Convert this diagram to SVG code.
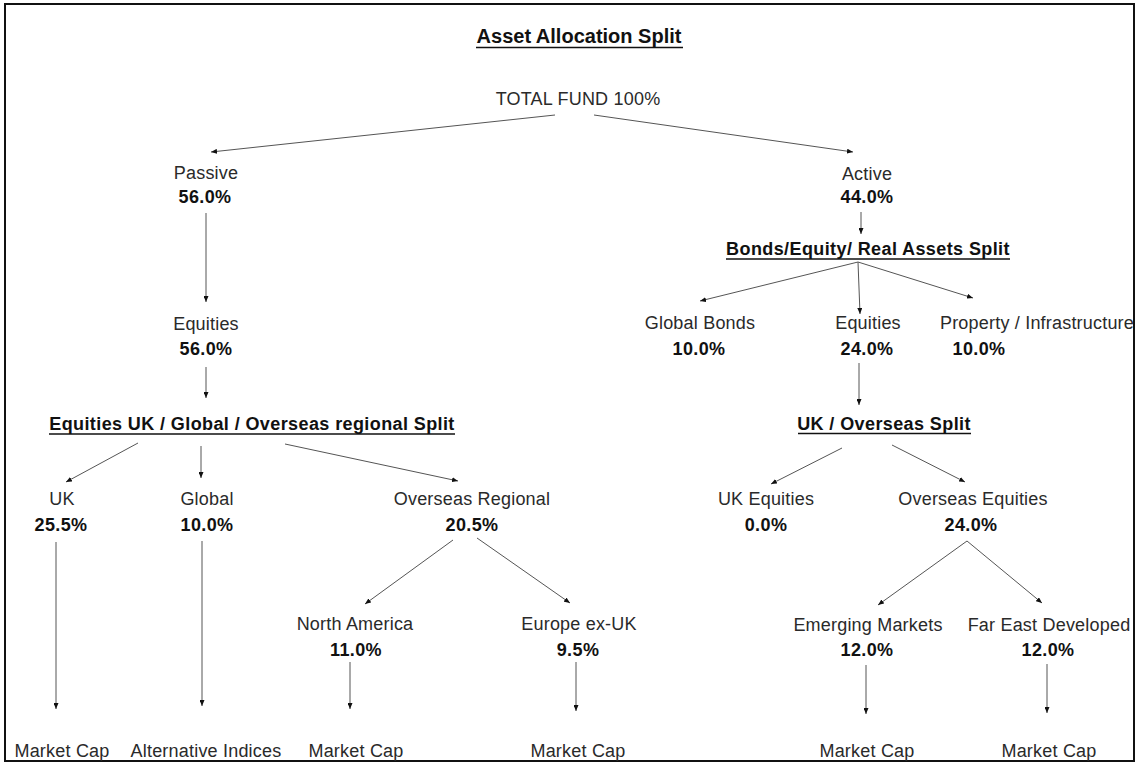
<svg xmlns="http://www.w3.org/2000/svg" width="1139" height="764" viewBox="0 0 1139 764">
<style>
text{font-family:"Liberation Sans",Arial,sans-serif;font-size:18px;text-anchor:middle;fill:#2a2a2a;letter-spacing:0.2px}
.b{font-weight:bold;fill:#111;letter-spacing:0.4px}
.t{font-size:20px;letter-spacing:0}
.u{stroke:#111;stroke-width:1.5}
#connectors line{stroke:#555;stroke-width:1;marker-end:url(#ah)}
</style>
<defs>
<marker id="ah" viewBox="0 0 6 5" markerWidth="6" markerHeight="5" refX="6" refY="2.5" orient="auto" markerUnits="userSpaceOnUse">
<path d="M0,0 L6,2.5 L0,5 z" fill="#111"/>
</marker>
</defs>
<rect x="0" y="0" width="1139" height="764" fill="#fff"/>
<rect x="5" y="4" width="1129" height="757" fill="none" stroke="#111" stroke-width="2"/>

<g id="title"><text class="b t" x="579" y="43">Asset Allocation Split</text><line class="u" x1="476" y1="47.5" x2="683" y2="47.5"/></g>
<g id="total"><text x="578" y="105">TOTAL FUND 100%</text></g>
<g id="passive"><text x="206" y="179">Passive</text><text class="b" x="205" y="203">56.0%</text></g>
<g id="active"><text x="867" y="180">Active</text><text class="b" x="867" y="203">44.0%</text></g>
<g id="equities-passive"><text x="206" y="330">Equities</text><text class="b" x="206" y="355">56.0%</text></g>
<g id="split-equities"><text class="b" x="252" y="430">Equities UK / Global / Overseas regional Split</text><line class="u" x1="49" y1="434" x2="455" y2="434"/></g>
<g id="uk"><text x="62" y="505">UK</text><text class="b" x="61" y="531">25.5%</text></g>
<g id="global"><text x="207" y="505">Global</text><text class="b" x="207" y="531">10.0%</text></g>
<g id="overseas-regional"><text x="472" y="505">Overseas Regional</text><text class="b" x="472" y="531">20.5%</text></g>
<g id="north-america"><text x="355" y="630">North America</text><text class="b" x="356" y="656">11.0%</text></g>
<g id="europe"><text x="579" y="630">Europe ex-UK</text><text class="b" x="578" y="656">9.5%</text></g>
<g id="mc-uk"><text x="62" y="757">Market Cap</text></g>
<g id="alt-indices"><text x="206" y="757">Alternative Indices</text></g>
<g id="mc-na"><text x="356" y="757">Market Cap</text></g>
<g id="mc-eu"><text x="578" y="757">Market Cap</text></g>
<g id="mc-em"><text x="867" y="757">Market Cap</text></g>
<g id="mc-fe"><text x="1049" y="757">Market Cap</text></g>
<g id="split-bonds"><text class="b" x="868" y="255">Bonds/Equity/ Real Assets Split</text><line class="u" x1="726" y1="259" x2="1010" y2="259"/></g>
<g id="global-bonds"><text x="700" y="329">Global Bonds</text><text class="b" x="699" y="355">10.0%</text></g>
<g id="equities-active"><text x="868" y="329">Equities</text><text class="b" x="867" y="355">24.0%</text></g>
<g id="property"><text x="1037" y="329">Property / Infrastructure</text><text class="b" x="979" y="355">10.0%</text></g>
<g id="split-uk-overseas"><text class="b" x="884" y="430">UK / Overseas Split</text><line class="u" x1="798" y1="433.5" x2="971" y2="433.5"/></g>
<g id="uk-equities"><text x="766" y="505">UK Equities</text><text class="b" x="766" y="531">0.0%</text></g>
<g id="overseas-equities"><text x="973" y="505">Overseas Equities</text><text class="b" x="971" y="531">24.0%</text></g>
<g id="emerging"><text x="868" y="631">Emerging Markets</text><text class="b" x="867" y="656">12.0%</text></g>
<g id="far-east"><text x="1049" y="631">Far East Developed</text><text class="b" x="1048" y="656">12.0%</text></g>

<g id="connectors">
<line x1="555" y1="115" x2="211" y2="152"/>
<line x1="594" y1="115" x2="853" y2="152"/>
<line x1="206" y1="213" x2="206" y2="302"/>
<line x1="206" y1="367" x2="206" y2="398"/>
<line x1="138" y1="443" x2="66" y2="482"/>
<line x1="201" y1="446" x2="201" y2="478"/>
<line x1="285" y1="444" x2="458" y2="481"/>
<line x1="56" y1="542" x2="56" y2="709"/>
<line x1="202" y1="541" x2="202" y2="706"/>
<line x1="453" y1="540" x2="365" y2="604"/>
<line x1="477" y1="538" x2="570" y2="603"/>
<line x1="350" y1="662" x2="350" y2="709"/>
<line x1="576" y1="662" x2="576" y2="711"/>
<line x1="861" y1="212" x2="861" y2="234"/>
<line x1="858" y1="262" x2="700" y2="301"/>
<line x1="858" y1="262" x2="860" y2="314"/>
<line x1="858" y1="262" x2="973" y2="298"/>
<line x1="859" y1="363" x2="859" y2="405"/>
<line x1="842" y1="448" x2="771" y2="484"/>
<line x1="892" y1="445" x2="965" y2="482"/>
<line x1="967" y1="541" x2="878" y2="605"/>
<line x1="967" y1="541" x2="1042" y2="603"/>
<line x1="866" y1="665" x2="866" y2="714"/>
<line x1="1047" y1="664" x2="1047" y2="713"/>
</g>
</svg>
